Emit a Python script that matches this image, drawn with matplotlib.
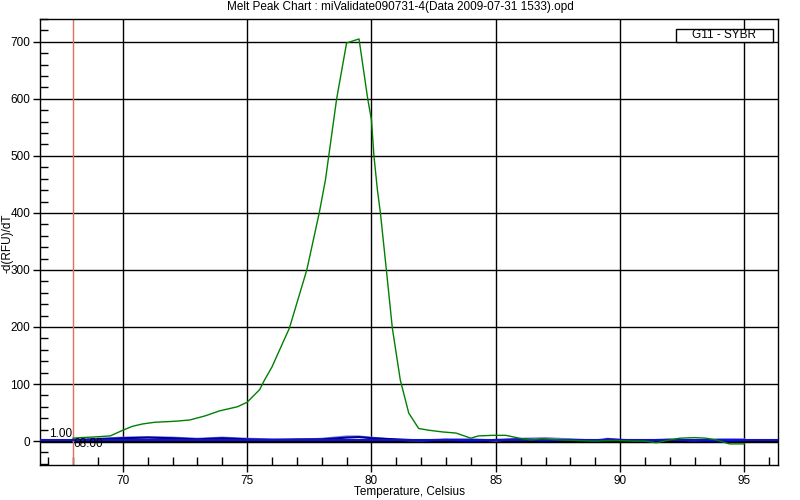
import matplotlib
matplotlib.use("Agg")
import matplotlib.pyplot as plt
from matplotlib.ticker import MultipleLocator
from matplotlib.patches import Rectangle

plt.rcParams['font.family'] = ['Liberation Sans', 'DejaVu Sans']

title = "Melt Peak Chart : miValidate090731-4(Data 2009-07-31 1533).opd"
xlabel = "Temperature, Celsius"
ylabel = "-d(RFU)/dT"
legend_label = "G11 - SYBR"

green_t = [68.0, 68.3, 68.8, 69.5, 70.0, 70.4, 70.8, 71.3, 71.8, 72.2, 72.7, 73.3, 73.9,
           74.6, 75.0, 75.5, 75.7, 76.0, 76.7, 77.4, 77.9, 78.15, 78.6, 79.0, 79.5,
           79.85, 80.0, 80.1, 80.24, 80.36, 80.6, 80.84, 81.16, 81.5, 81.9, 82.3, 82.85,
           83.4, 84.0, 84.3, 84.86, 85.4, 86.06, 86.4, 86.87, 87.55, 88.2, 89.0, 89.8,
           90.6, 91.0, 91.45, 92.0, 92.4, 93.0, 93.45, 93.86, 94.4, 95.0]
green_v = [5, 6, 7, 9, 19, 26, 30, 33, 34, 35, 37, 44, 53,
           60, 68, 90, 107, 130, 198, 300, 400, 458, 600, 698, 705,
           600, 563, 500, 440, 400, 300, 198, 107, 49, 22, 19, 16,
           14, 5, 9, 10, 10, 4, 2, 4, 2, 1, 0, 1,
           0, 0, -3, 2, 5, 6, 5, 2, -5, -5]

blue_t = [68, 69, 70, 71, 72, 73, 74, 75, 76, 77, 78, 79, 79.5, 80, 81, 82, 83, 84,
          85, 86, 87, 88, 89, 89.5, 90, 91, 92, 93, 94, 95]
navy_v = [2, 3, 5, 6, 5, 3, 5, 3, 2, 3, 3, 6, 7, 5, 3, 1, 2, 0,
          2, 3, 1, 2, 0, 3, 2, 1, 2, 1, -1, 1]
light_v = [1, 4, 6, 7, 6, 4, 6, 4, 3, 2, 4, 8, 8, 6, 2, 1, 3, 3,
           1, 4, 5, 3, 1, 4, 2, 1, 3, 1, 3, 3]

marker_t = 68.0

fig = plt.figure(figsize=(8, 5), dpi=100)
ax = fig.add_axes([0.05, 0.07, 0.9225, 0.892])

ax.set_xlim(66.67, 96.35)
ax.set_ylim(-42, 740)

ax.xaxis.set_major_locator(MultipleLocator(5))
ax.xaxis.set_minor_locator(MultipleLocator(1))
ax.yaxis.set_major_locator(MultipleLocator(100))
ax.yaxis.set_minor_locator(MultipleLocator(20))
ax.tick_params(which='both', labelsize=8.5, colors='black')
ax.tick_params(which='major', direction='out', length=5, width=1, pad=2)
ax.tick_params(which='minor', direction='in', length=6, width=1)
ax.tick_params(top=False, right=False, which='both')

ax.grid(True, which='major', color='black', linewidth=1)
ax.set_axisbelow(True)
for s in ax.spines.values():
    s.set_linewidth(1)

ax.axhline(0, color='black', linewidth=2.5, zorder=2)
ax.axvline(marker_t, color='#e07060', linewidth=1, zorder=2)

ax.plot(blue_t, light_v, color='#7070e8', linewidth=1.5, zorder=3)
ax.plot(blue_t, navy_v, color='#000090', linewidth=1.5, zorder=3)
ax.axhline(1, color='#1010d0', linewidth=1.5, zorder=3)
ax.plot(green_t, green_v, color='#008000', linewidth=1, zorder=4)

ax.text(marker_t - 0.05, 12, "1.00", fontsize=8.5, ha='right', va='center', zorder=5)
ax.text(marker_t + 0.02, -5, "68.00", fontsize=8.5, ha='left', va='center', zorder=5)

fig.text(0.5, (500 - 7) / 500, title, fontsize=8.5, ha='center', va='center')
fig.text(409 / 800, (500 - 492) / 500, xlabel, fontsize=8.5, ha='center', va='center')
fig.text(7 / 800, (500 - 243) / 500, ylabel, fontsize=8.5, ha='center', va='center',
         rotation=90)

# legend box
box = Rectangle((676 / 800, (500 - 42) / 500), 97 / 800, 13 / 500,
                transform=fig.transFigure, facecolor='white', edgecolor='black',
                linewidth=1, zorder=10)
fig.add_artist(box)
fig.text((676 + 97 / 2) / 800, (500 - 35.5) / 500, legend_label, fontsize=8.5,
         ha='center', va='center', zorder=11)

fig.savefig("out.png", dpi=100)
